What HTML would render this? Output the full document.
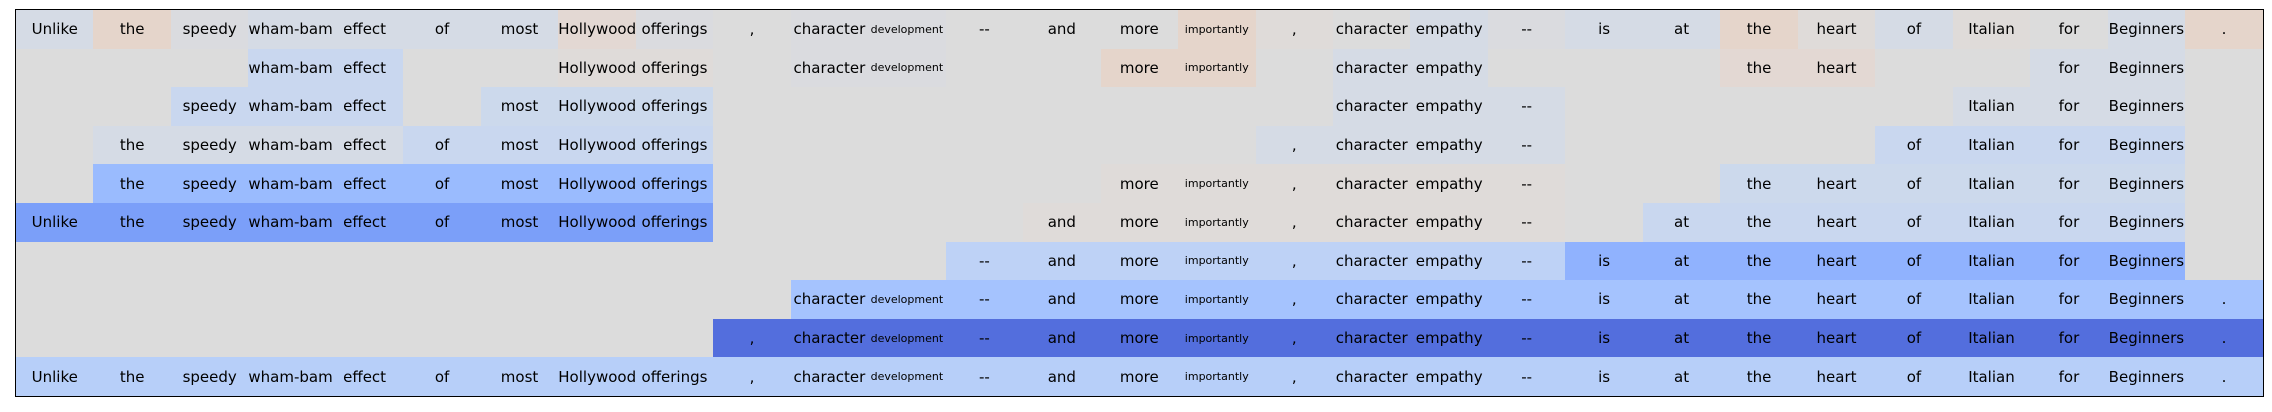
<!DOCTYPE html>
<html><head><meta charset="utf-8"><style>
html,body{margin:0;padding:0;background:#fff;width:2272px;height:412px;overflow:hidden}
.w{position:absolute;left:15px;top:9px;width:2247px;height:386px;border:1.5px solid #000;background:#dcdcdc}
.f{display:table;table-layout:fixed;width:2247px;height:386px;border-collapse:collapse}
.r{display:table-row;height:38.6px}
.r span{display:table-cell;width:77.48px;vertical-align:middle;text-align:center;font-family:"DejaVu Sans","Liberation Sans",sans-serif;font-size:15px;color:#000;white-space:nowrap;overflow:visible;background:#dcdcdc;padding:0}
.r span.s{font-size:11px}
.r .b1{background:#d5dbe5}.r .p1{background:#e5d5cb}.r .p2{background:#e3d8d3}
.r .d{background:#dadbdf}.r .n{background:#dfdbd9}.r .b2{background:#c9d7ef}
.r .b3{background:#ccd9ec}.r .b4{background:#9abbfe}.r .b5{background:#7b9ff9}
.r .b6{background:#bed2f6}.r .b7{background:#90b2fe}.r .b8{background:#a5c3fe}
.r .b9{background:#536edd}.r .b10{background:#b7cff9}
</style></head><body>
<div class="w"><div class="f">
<div class="r"><span class="b1">Unlike</span><span class="p1">the</span><span class="d">speedy</span><span class="b1">wham-bam</span><span class="b1">effect</span><span class="b1">of</span><span class="b1">most</span><span class="p2">Hollywood</span><span class="d">offerings</span><span>,</span><span class="d">character</span><span class="d s">development</span><span>--</span><span>and</span><span>more</span><span class="p1 s">importantly</span><span class="n">,</span><span>character</span><span class="b1">empathy</span><span class="d">--</span><span class="b1">is</span><span class="b1">at</span><span class="p1">the</span><span class="n">heart</span><span class="b1">of</span><span class="n">Italian</span><span>for</span><span class="b1">Beginners</span><span class="p1">.</span></div>
<div class="r"><span></span><span></span><span></span><span class="b2">wham-bam</span><span class="b2">effect</span><span></span><span></span><span class="n">Hollywood</span><span class="n">offerings</span><span></span><span class="d">character</span><span class="d s">development</span><span></span><span></span><span class="p1">more</span><span class="p1 s">importantly</span><span></span><span class="b1">character</span><span class="b1">empathy</span><span></span><span></span><span></span><span class="p2">the</span><span class="p2">heart</span><span></span><span></span><span class="b1">for</span><span class="b1">Beginners</span><span></span></div>
<div class="r"><span></span><span></span><span class="b2">speedy</span><span class="b2">wham-bam</span><span class="b2">effect</span><span></span><span class="b3">most</span><span class="b3">Hollywood</span><span class="b3">offerings</span><span></span><span></span><span></span><span></span><span></span><span></span><span></span><span></span><span class="b1">character</span><span class="b1">empathy</span><span class="b1">--</span><span></span><span></span><span></span><span></span><span></span><span class="b1">Italian</span><span class="b1">for</span><span class="b1">Beginners</span><span></span></div>
<div class="r"><span></span><span class="b1">the</span><span class="b1">speedy</span><span class="b1">wham-bam</span><span class="b1">effect</span><span class="b2">of</span><span class="b2">most</span><span class="b2">Hollywood</span><span class="b2">offerings</span><span></span><span></span><span></span><span></span><span></span><span></span><span></span><span class="b1">,</span><span class="b1">character</span><span class="b1">empathy</span><span class="b1">--</span><span></span><span></span><span></span><span></span><span class="b2">of</span><span class="b2">Italian</span><span class="b2">for</span><span class="b2">Beginners</span><span></span></div>
<div class="r"><span></span><span class="b4">the</span><span class="b4">speedy</span><span class="b4">wham-bam</span><span class="b4">effect</span><span class="b4">of</span><span class="b4">most</span><span class="b4">Hollywood</span><span class="b4">offerings</span><span></span><span></span><span></span><span></span><span></span><span class="n">more</span><span class="n s">importantly</span><span class="n">,</span><span class="n">character</span><span class="n">empathy</span><span class="n">--</span><span></span><span></span><span class="b3">the</span><span class="b3">heart</span><span class="b3">of</span><span class="b3">Italian</span><span class="b3">for</span><span class="b3">Beginners</span><span></span></div>
<div class="r"><span class="b5">Unlike</span><span class="b5">the</span><span class="b5">speedy</span><span class="b5">wham-bam</span><span class="b5">effect</span><span class="b5">of</span><span class="b5">most</span><span class="b5">Hollywood</span><span class="b5">offerings</span><span></span><span></span><span></span><span></span><span class="n">and</span><span class="n">more</span><span class="n s">importantly</span><span class="n">,</span><span class="n">character</span><span class="n">empathy</span><span class="n">--</span><span></span><span class="b2">at</span><span class="b2">the</span><span class="b2">heart</span><span class="b2">of</span><span class="b2">Italian</span><span class="b2">for</span><span class="b2">Beginners</span><span></span></div>
<div class="r"><span></span><span></span><span></span><span></span><span></span><span></span><span></span><span></span><span></span><span></span><span></span><span></span><span class="b6">--</span><span class="b6">and</span><span class="b6">more</span><span class="b6 s">importantly</span><span class="b6">,</span><span class="b6">character</span><span class="b6">empathy</span><span class="b6">--</span><span class="b7">is</span><span class="b7">at</span><span class="b7">the</span><span class="b7">heart</span><span class="b7">of</span><span class="b7">Italian</span><span class="b7">for</span><span class="b7">Beginners</span><span></span></div>
<div class="r"><span></span><span></span><span></span><span></span><span></span><span></span><span></span><span></span><span></span><span></span><span class="b8">character</span><span class="b8 s">development</span><span class="b8">--</span><span class="b8">and</span><span class="b8">more</span><span class="b8 s">importantly</span><span class="b8">,</span><span class="b8">character</span><span class="b8">empathy</span><span class="b8">--</span><span class="b8">is</span><span class="b8">at</span><span class="b8">the</span><span class="b8">heart</span><span class="b8">of</span><span class="b8">Italian</span><span class="b8">for</span><span class="b8">Beginners</span><span class="b8">.</span></div>
<div class="r"><span></span><span></span><span></span><span></span><span></span><span></span><span></span><span></span><span></span><span class="b9">,</span><span class="b9">character</span><span class="b9 s">development</span><span class="b9">--</span><span class="b9">and</span><span class="b9">more</span><span class="b9 s">importantly</span><span class="b9">,</span><span class="b9">character</span><span class="b9">empathy</span><span class="b9">--</span><span class="b9">is</span><span class="b9">at</span><span class="b9">the</span><span class="b9">heart</span><span class="b9">of</span><span class="b9">Italian</span><span class="b9">for</span><span class="b9">Beginners</span><span class="b9">.</span></div>
<div class="r"><span class="b10">Unlike</span><span class="b10">the</span><span class="b10">speedy</span><span class="b10">wham-bam</span><span class="b10">effect</span><span class="b10">of</span><span class="b10">most</span><span class="b10">Hollywood</span><span class="b10">offerings</span><span class="b10">,</span><span class="b10">character</span><span class="b10 s">development</span><span class="b10">--</span><span class="b10">and</span><span class="b10">more</span><span class="b10 s">importantly</span><span class="b10">,</span><span class="b10">character</span><span class="b10">empathy</span><span class="b10">--</span><span class="b10">is</span><span class="b10">at</span><span class="b10">the</span><span class="b10">heart</span><span class="b10">of</span><span class="b10">Italian</span><span class="b10">for</span><span class="b10">Beginners</span><span class="b10">.</span></div>
</div></div>
</body></html>
